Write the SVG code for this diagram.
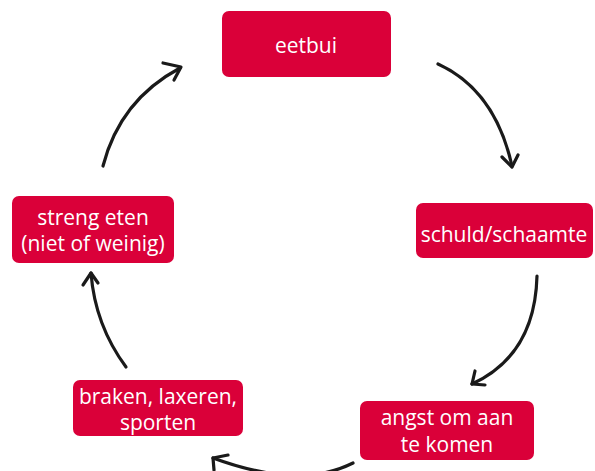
<svg xmlns="http://www.w3.org/2000/svg" width="595" height="471" viewBox="0 0 595 471">
<style>
.box{fill:#DA0039}
.t{font-family:"Open Sans","Liberation Sans",sans-serif;font-size:21px;fill:#ffffff;text-anchor:middle}
.c{fill:none;stroke:#1a1a1a;stroke-width:3.2;stroke-linecap:round;stroke-linejoin:round}
</style>
<rect width="595" height="471" fill="#ffffff"/>
<g id="eetbui"><rect class="box" x="222" y="11" width="169" height="66" rx="7"/><text class="t" x="306" y="53">eetbui</text></g>
<g id="schuld"><rect class="box" x="416" y="203" width="177" height="55" rx="7"/><text class="t" x="504" y="242">schuld/schaamte</text></g>
<g id="angst"><rect class="box" x="360" y="401" width="174" height="59" rx="7"/><text class="t" x="447" y="425">angst om aan</text><text class="t" x="447" y="452">te komen</text></g>
<g id="braken"><rect class="box" x="73" y="380" width="170" height="56" rx="7"/><text class="t" x="158" y="404">braken, laxeren,</text><text class="t" x="158" y="430">sporten</text></g>
<g id="streng"><rect class="box" x="12" y="196" width="162" height="67" rx="7"/><text class="t" x="93" y="225">streng eten</text><text class="t" x="93" y="251">(niet of weinig)</text></g>
<g id="connectors">
<path class="c" d="M438 64 Q495 90 512 166"/><path class="c" d="M502 157 L512 167 L518 155"/>
<path class="c" d="M537 276 Q535 355 472 384"/><path class="c" d="M475 371 L472 384 L485 385"/>
<path class="c" d="M353 463 Q300 490 213 458"/><path class="c" d="M214 470 L213 458 L228 455"/>
<path class="c" d="M126 367 Q95 325 91 273"/><path class="c" d="M83 285 L91 273 L98 283"/>
<path class="c" d="M103 166 Q120 100 180 68"/><path class="c" d="M163 63 L181 67 L174 80"/>
</g>
</svg>
